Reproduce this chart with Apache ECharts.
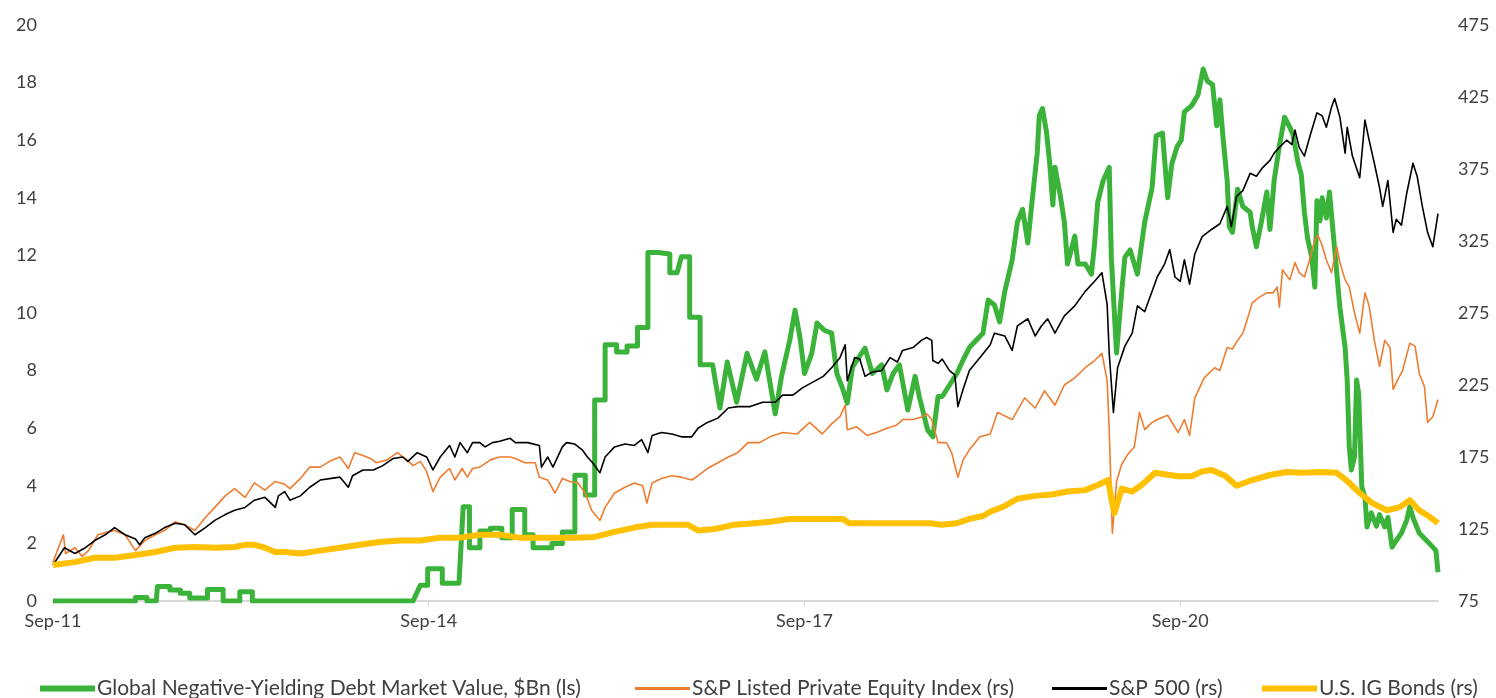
<!DOCTYPE html>
<html>
<head>
<meta charset="utf-8">
<script src="https://cdn.jsdelivr.net/npm/echarts@6/dist/echarts.min.js"></script>
<style>
  html, body { margin: 0; padding: 0; background: #ffffff; }
  #chart { width: 1496px; height: 698px; }
</style>
</head>
<body>
<div id="chart"></div>
<script>
// x values are months elapsed since Sep-2011
const xTickMonths = [0, 36, 72, 108];
const xTickLabels = ['Sep-11', 'Sep-14', 'Sep-17', 'Sep-20'];
const rightTicks = [75, 125, 175, 225, 275, 325, 375, 425, 475];

const seriesNames = [
  'Global Negative-Yielding Debt Market Value, $Bn (ls)',
  'S&P Listed Private Equity Index (rs)',
  'S&P 500 (rs)',
  'U.S. IG Bonds (rs)'
];

// Global negative-yielding debt market value (left scale)
const negYieldDebt = [
  [0,0],[7.9,0],[7.9,0.12],[9.0,0.12],[9.0,0],[9.9,0],[10.0,0.5],[11.2,0.5],[11.2,0.38],[12.2,0.38],[12.2,0.27],[13.1,0.27],[13.1,0.1],[14.8,0.1],[14.8,0.4],[16.3,0.4],[16.3,0],[17.9,0],[17.9,0.32],[19.1,0.32],[19.1,0],
  [34.5,0],[35.2,0.55],[35.9,0.55],[35.9,1.12],[37.3,1.12],[37.3,0.62],[38.9,0.62],[39.3,3.27],[39.9,3.27],[39.9,1.85],[40.9,1.85],[40.9,2.43],[41.9,2.43],[41.9,2.53],[43.0,2.53],[43.0,2.2],[44.0,2.2],[44.0,3.18],[45.2,3.18],[45.2,2.3],[46.0,2.3],[46.0,1.85],[47.8,1.85],[47.8,2.0],[48.8,2.0],[48.8,2.4],[50.0,2.4],[50.0,4.37],[51.0,4.37],[51.0,3.68],[51.9,3.68],[51.9,6.98],[52.9,6.98],[52.9,8.9],[54.0,8.9],[54.0,8.65],[55.0,8.65],[55.0,8.85],[56.0,8.85],[56.0,9.5],[57.0,9.5],[57.0,12.1],[58.0,12.1],[58.0,12.05],[59.1,12.05],[59.1,11.4],[59.8,11.4],[60.2,11.95],[61.0,11.95],[61.0,9.85],[62.0,9.85],[62.0,8.2],[63.2,8.2],
  [63.9,6.7],[64.6,8.3],[65.5,6.9],[66.5,8.6],[67.4,7.7],[68.2,8.65],[69.2,6.5],[69.8,7.8],[70.6,9.07],[71.1,10.1],[71.6,9.07],[72.0,7.9],[72.7,8.6],[73.2,9.65],[73.9,9.4],[74.6,9.3],[75.1,7.9],[75.6,7.43],[76.1,6.87],[76.6,8.13],[77.8,8.78],[78.5,7.9],[79.4,8.2],[79.9,7.33],[80.5,7.9],[81.1,8.2],[81.9,6.63],[82.6,7.8],[83.0,7.1],[83.8,5.94],[84.3,5.7],[84.8,7.1],[85.2,7.1],[85.9,7.5],[86.6,7.9],[87.2,8.37],[87.8,8.8],[88.5,9.07],[89.1,9.3],[89.6,10.45],[90.2,10.28],[90.7,9.69],[91.2,10.76],[91.9,11.84],[92.4,13.16],[92.9,13.6],[93.4,12.43],[93.8,13.85],[94.3,15.55],[94.5,16.86],[94.8,17.1],[95.2,16.26],[95.5,15.18],[95.8,13.75],[96.0,15.06],[96.5,14.1],[96.9,13.16],[97.2,11.7],[97.9,12.67],[98.2,11.7],[98.9,11.7],[99.5,11.35],[99.8,12.43],[100.1,13.85],[100.6,14.58],[101.2,15.06],[101.4,11.94],[101.9,8.61],[102.4,10.76],[102.7,11.94],[103.2,12.19],[103.9,11.35],[104.6,13.16],[105.3,14.34],[105.7,16.15],[106.3,16.25],[106.8,14.0],[107.2,15.18],[107.7,15.77],[108.1,16.0],[108.4,16.98],[109.1,17.2],[109.7,17.57],[110.2,18.47],[110.6,18.05],[111.1,17.93],[111.5,16.5],[111.8,17.4],[112.1,16.1],[112.5,14.6],[112.7,13.0],[113.0,12.8],[113.5,14.3],[114.0,13.7],[114.7,13.5],[114.9,13.0],[115.3,12.3],[115.8,13.2],[116.3,14.2],[116.6,12.9],[117.0,14.6],[117.5,15.8],[118.0,16.8],[118.5,16.45],[118.8,16.2],[119.3,15.2],[119.6,14.8],[119.9,13.5],[120.2,12.6],[120.6,11.95],[120.9,10.9],[121.1,13.9],[121.4,13.2],[121.6,14.0],[122.0,13.3],[122.3,14.2],[122.6,13.0],[123.0,11.4],[123.3,10.2],[123.8,8.8],[124.0,7.67],[124.2,5.35],[124.4,4.55],[124.7,5.0],[124.9,7.67],[125.1,7.2],[125.4,3.96],[125.7,3.6],[125.9,2.57],[126.3,3.06],[126.8,2.6],[127.1,3.0],[127.6,2.57],[127.9,2.9],[128.3,1.87],[128.7,2.1],[129.2,2.36],[129.7,2.8],[130.0,3.27],[130.3,2.9],[130.9,2.36],[131.6,2.1],[132.2,1.87],[132.5,1.75],[132.7,1.0]
];

// S&P Listed Private Equity Index (right scale)
const listedPE = [
  [0,102],[1.0,121],[1.2,108],[2.1,112],[2.8,106],[3.4,110],[4.3,121],[5.3,123],[5.9,124],[6.9,121],[7.9,110],[8.8,117],[9.8,121],[10.7,124],[11.7,130],[12.6,128],[13.6,124],[14.6,133],[15.5,140],[16.5,148],[17.4,153],[18.4,147],[19.3,157],[20.3,152],[21.3,158],[22.2,156],[22.7,153],[23.7,160],[24.6,168],[25.6,168],[26.5,172],[27.5,175],[28.3,167],[28.9,178],[29.7,176],[30.4,174],[31.0,171],[32.0,173],[33.0,178],[33.9,173],[34.5,169],[35.2,172],[35.8,165],[36.4,151],[37.1,161],[38.0,167],[38.5,159],[39.2,167],[39.7,161],[40.2,167],[40.9,168],[41.9,173],[42.8,175],[43.8,175],[44.3,174],[45.2,171],[46.2,171],[46.6,161],[47.4,159],[48.1,150],[48.8,160],[49.5,158],[50.3,157],[51.0,150],[51.6,138],[52.4,131],[52.9,140],[53.8,150],[54.8,154],[55.7,157],[56.5,155],[56.9,143],[57.4,157],[58.3,160],[59.3,162],[60.2,161],[61.2,159],[61.8,162],[62.7,167],[63.7,171],[64.7,175],[65.6,178],[66.6,185],[67.7,185],[68.7,189],[69.9,192],[71.3,191],[72.5,199],[73.7,191],[74.6,198],[75.4,203],[75.9,211],[76.1,194],[77.0,196],[78.0,190],[78.9,192],[79.9,195],[80.8,197],[81.4,201],[82.4,201],[83.3,203],[83.7,205],[84.2,201],[84.8,185],[85.6,185],[86.1,178],[86.7,161],[87.2,173],[87.8,180],[88.8,189],[89.8,191],[90.5,206],[91.9,201],[93.1,216],[94.1,209],[95.0,221],[96.0,211],[96.9,225],[97.9,230],[98.9,237],[99.8,242],[100.5,247],[101.0,228],[101.2,194],[101.5,122],[101.9,158],[102.4,170],[103.0,177],[103.6,182],[104.1,206],[104.6,194],[105.3,199],[105.8,201],[106.8,204],[107.8,192],[108.4,201],[108.9,190],[109.4,216],[110.3,230],[111.3,237],[111.8,235],[112.5,251],[113.0,250],[113.5,256],[114.0,261],[114.4,270],[114.9,282],[115.6,286],[116.3,289],[116.9,289],[117.3,293],[117.5,279],[117.8,305],[118.5,298],[119.0,310],[119.4,303],[119.9,300],[120.4,312],[120.9,326],[121.2,329],[121.6,322],[122.0,312],[122.5,303],[123.0,321],[123.3,310],[123.8,298],[124.2,293],[124.7,275],[125.2,261],[125.7,289],[126.1,280],[126.6,256],[127.1,238],[127.6,256],[128.1,251],[128.4,222],[128.8,228],[129.3,235],[130.0,254],[130.5,252],[130.9,233],[131.4,224],[131.7,199],[132.2,203],[132.7,215]
];

// S&P 500 (right scale)
const sp500 = [
  [0,100],[1.1,112],[2.1,108],[3.1,112],[4.0,117],[5.0,121],[5.9,126],[6.9,121],[7.9,118],[8.3,114],[8.8,119],[9.8,122],[10.7,126],[11.7,129],[12.6,128],[13.6,121],[14.6,126],[15.5,131],[16.5,135],[17.4,138],[18.4,140],[19.3,145],[20.3,147],[21.3,140],[21.6,148],[22.2,151],[22.7,145],[23.7,148],[24.6,154],[25.6,159],[26.5,160],[27.5,161],[28.3,154],[28.7,162],[29.7,166],[30.7,166],[31.6,169],[32.6,174],[33.5,175],[34.0,172],[34.9,178],[35.8,175],[36.4,166],[37.1,175],[38.0,183],[38.5,175],[39.0,185],[39.7,178],[40.2,185],[40.9,185],[41.4,182],[42.1,185],[42.8,186],[43.8,188],[44.3,185],[45.5,185],[46.6,183],[46.8,168],[47.4,175],[47.9,168],[48.8,182],[49.2,185],[50.0,184],[50.7,180],[51.2,175],[51.7,171],[52.4,164],[52.9,175],[53.8,182],[54.8,184],[55.7,183],[56.4,187],[57.0,178],[57.4,190],[58.3,192],[59.3,191],[60.2,189],[61.2,189],[61.8,195],[62.7,199],[63.7,202],[64.7,209],[65.6,210],[66.8,210],[68.0,213],[69.2,213],[69.9,218],[70.9,218],[71.8,223],[72.8,227],[73.8,231],[74.6,237],[75.4,244],[75.9,253],[76.1,228],[76.8,244],[77.3,243],[77.8,231],[78.5,234],[79.4,235],[80.2,244],[80.9,241],[81.4,249],[82.4,251],[83.2,256],[83.7,258],[84.2,256],[84.3,242],[84.8,240],[85.2,243],[85.9,235],[86.4,232],[86.7,210],[87.2,222],[87.8,235],[88.8,244],[89.8,253],[90.2,261],[91.2,259],[91.9,249],[92.4,266],[93.4,271],[94.1,259],[94.7,266],[95.3,271],[96.0,261],[96.9,273],[97.9,280],[98.9,290],[99.8,297],[100.5,303],[101.0,281],[101.2,247],[101.6,206],[102.0,237],[102.7,252],[103.4,261],[103.9,280],[104.6,276],[105.3,290],[105.8,300],[106.5,309],[107.0,319],[107.5,300],[108.0,297],[108.4,312],[108.9,295],[109.4,316],[110.1,328],[111.0,333],[111.8,337],[112.5,349],[112.9,335],[113.4,356],[114.0,360],[114.7,372],[115.3,370],[115.9,376],[116.6,381],[117.0,386],[117.5,390],[118.2,395],[118.7,392],[119.0,402],[119.4,390],[119.9,384],[120.4,397],[121.1,414],[121.6,412],[122.0,404],[122.5,418],[122.8,424],[123.3,411],[123.8,386],[124.0,404],[124.5,384],[125.2,369],[125.7,409],[126.1,395],[126.6,379],[127.1,362],[127.4,349],[127.9,367],[128.4,331],[128.7,340],[129.2,336],[129.7,358],[130.3,379],[130.7,370],[131.2,349],[131.7,331],[132.2,321],[132.7,344]
];

// U.S. IG Bonds (right scale)
const igBonds = [
  [0,100],[2.1,102],[4.0,105],[5.9,105],[7.9,107],[9.8,109],[11.7,112],[13.6,112.5],[15.5,112],[17.4,112.5],[18.4,114],[19.3,114],[20.3,112],[21.3,109],[22.2,109],[23.7,108],[25.6,110],[27.5,112],[29.4,114],[31.3,116],[33.2,117],[35.2,117],[37.1,119],[39.0,119],[40.9,121],[42.8,121],[44.7,119],[46.2,119],[48.1,119],[50.0,119],[51.9,119.5],[53.8,123],[55.7,126],[57.4,128],[59.3,128],[60.8,128],[61.8,124],[63.4,125],[65.3,128],[67.2,129],[68.7,130],[70.6,132],[72.5,132],[74.4,132],[75.7,132],[76.3,129],[78.3,129],[80.2,129],[82.1,129],[84.0,129],[85.2,128],[86.6,129],[87.8,132],[89.1,134],[89.8,137],[91.2,141],[92.4,146],[94.1,148],[95.7,149],[97.2,151],[98.9,152],[100.1,155.6],[101.1,159],[101.4,146],[101.7,136],[102.4,153],[103.4,151],[104.3,155.6],[105.6,164],[106.5,163],[107.8,161.6],[109.1,161.6],[110.1,165],[111.0,166],[112.3,162],[113.4,155],[114.9,159],[116.6,162.5],[118.2,164.6],[119.7,164],[121.4,164.6],[123.0,164],[123.9,159],[125.2,150],[126.4,143],[127.8,138],[129.0,140],[130.0,145],[130.9,138],[131.9,133.5],[132.7,129]
];

const colors = ['#3BB33A', '#ED7D31', '#000000', '#FFC000'];
const widths = [5, 1.6, 1.6, 6];
const legendLeft = [35, 630, 1047, 1257];
const legendHeights = [6, 3, 3, 6];
const dataSets = [negYieldDebt, listedPE, sp500, igBonds];
const axisIdx = [0, 1, 1, 1];

const FONT = 'Lato, "Noto Sans", sans-serif';
const TXT = '#404040';

const chart = echarts.init(document.getElementById('chart'), null, { renderer: 'canvas' });

const option = {
  animation: false,
  backgroundColor: '#ffffff',
  grid: { left: 53, right: 58, top: 25, bottom: 97, containLabel: false },
  xAxis: {
    type: 'value',
    min: 0,
    max: 132.7,
    axisLine: { show: true, lineStyle: { color: '#d9d9d9', width: 2 } },
    axisTick: { show: true, customValues: xTickMonths, length: 5, lineStyle: { color: '#d9d9d9', width: 1 } },
    axisLabel: {
      customValues: xTickMonths,
      formatter: function (v) {
        const i = xTickMonths.indexOf(Math.round(v));
        return i >= 0 ? xTickLabels[i] : '';
      },
      color: TXT, fontSize: 18, fontFamily: FONT, margin: 11
    },
    splitLine: { show: false }
  },
  yAxis: [
    {
      type: 'value', min: 0, max: 20, interval: 2,
      axisLine: { show: false }, axisTick: { show: false }, splitLine: { show: false },
      axisLabel: { color: TXT, fontSize: 18, fontFamily: FONT, margin: 16 }
    },
    {
      type: 'value', min: 75, max: 475, position: 'right',
      axisLine: { show: false }, axisTick: { show: false }, splitLine: { show: false },
      axisLabel: { customValues: rightTicks, color: TXT, fontSize: 18, fontFamily: FONT, margin: 20 }
    }
  ],
  legend: seriesNames.map(function (name, i) {
    return {
      data: [{ name: name, icon: 'rect' }],
      left: legendLeft[i],
      top: 673,
      itemWidth: 55,
      itemHeight: legendHeights[i],
      itemGap: 0,
      textStyle: { color: TXT, fontSize: 21, fontFamily: FONT, padding: [0, 0, 0, -3] }
    };
  }),
  series: seriesNames.map(function (name, i) {
    return {
      name: name,
      type: 'line',
      yAxisIndex: axisIdx[i],
      data: dataSets[i],
      showSymbol: false,
      symbol: 'none',
      color: colors[i],
      lineStyle: { color: colors[i], width: widths[i], join: 'round' },
      emphasis: { disabled: true },
      z: 2 + i
    };
  })
};

chart.setOption(option);
</script>
</body>
</html>
